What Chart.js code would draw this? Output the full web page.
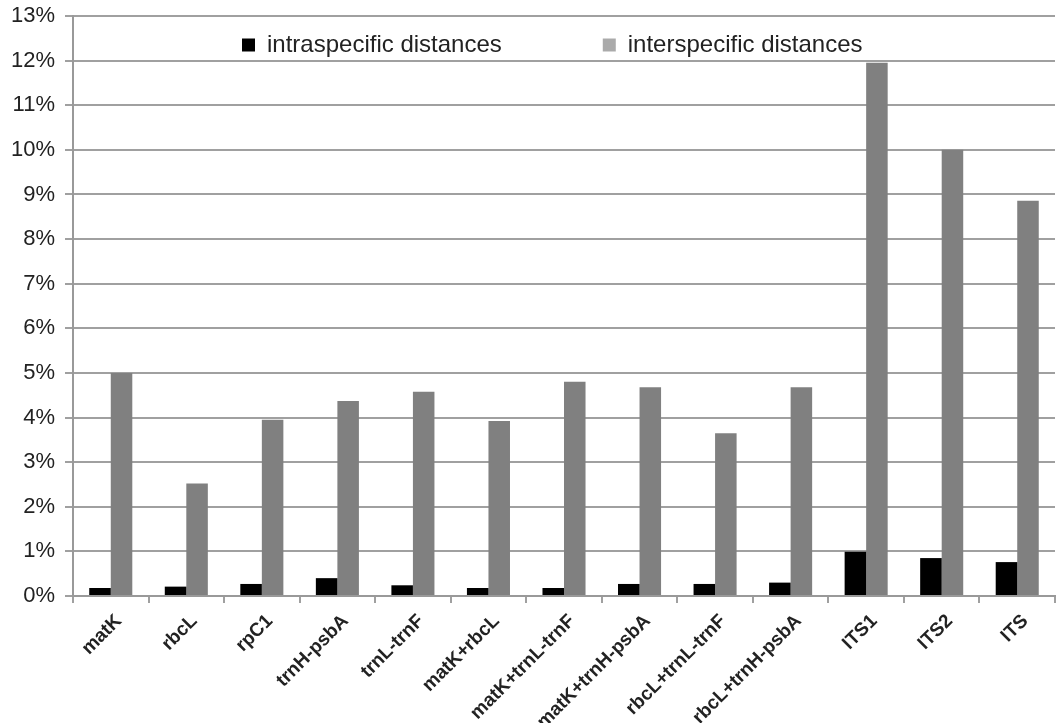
<!DOCTYPE html>
<html>
<head>
<meta charset="utf-8">
<script src="https://cdn.jsdelivr.net/npm/chart.js@4/dist/chart.umd.min.js"></script>
<style>
  html, body { margin: 0; padding: 0; background: #ffffff; }
  #wrap { width: 1064px; height: 723px; position: relative; }
</style>
</head>
<body>
<div id="wrap"><canvas id="c" width="1064" height="723"></canvas></div>
<script>
const categories = ['matK', 'rbcL', 'rpC1', 'trnH-psbA', 'trnL-trnF', 'matK+rbcL', 'matK+trnL-trnF', 'matK+trnH-psbA', 'rbcL+trnL-trnF', 'rbcL+trnH-psbA', 'ITS1', 'ITS2', 'ITS'];
const intraspecific = [0.18, 0.21, 0.27, 0.40, 0.24, 0.18, 0.18, 0.27, 0.27, 0.30, 0.99, 0.85, 0.76];
const interspecific = [5.00, 2.52, 3.95, 4.37, 4.58, 3.92, 4.80, 4.68, 3.65, 4.68, 11.95, 10.00, 8.86];
const seriesNames = ['intraspecific distances', 'interspecific distances'];
const yMin = 0, yMax = 13, yStep = 1;

const FONT = "'Liberation Sans', Arial, Helvetica, sans-serif";
const GRID = '#a0a0a0';

const legendPlacer = {
  id: 'legendPlacer',
  beforeInit(chart) {
    const lg = chart.legend;
    if (lg && !lg._patched) {
      const orig = lg.fit;
      lg.fit = function () { orig.call(this); this.height = 0; };
      lg._patched = true;
    }
  },
  afterLayout(chart) {
    const lg = chart.legend;
    if (!lg) return;
    const pad = lg.options.labels.padding;
    lg.left = 242 - pad;
    lg.right = 1064 + 200;
    lg.top = 33 - pad;
    lg.bottom = 33 + 40;
    lg.width = lg.right - lg.left;
    lg.height = lg.bottom - lg.top;
  }
};

new Chart(document.getElementById('c'), {
  type: 'bar',
  data: {
    labels: categories,
    datasets: [
      { label: seriesNames[0], data: intraspecific, backgroundColor: '#000000', borderWidth: 0 },
      { label: seriesNames[1], data: interspecific, backgroundColor: '#808080', borderWidth: 0 }
    ]
  },
  options: {
    responsive: false,
    animation: false,
    devicePixelRatio: 1,
    layout: { padding: { top: 16, right: 9, left: 0, bottom: 0 } },
    datasets: { bar: { categoryPercentage: 0.57, barPercentage: 1.0 } },
    plugins: {
      tooltip: { enabled: false },
      legend: {
        display: true,
        position: 'top',
        align: 'start',
        labels: {
          boxWidth: 13,
          boxHeight: 13,
          padding: 101,
          color: '#222222',
          font: { family: FONT, size: 24 },
          generateLabels(chart) {
            const items = Chart.defaults.plugins.legend.labels.generateLabels(chart);
            const legendColors = ['#000000', '#aaaaaa'];
            items.forEach((it, i) => { it.fillStyle = legendColors[i]; it.strokeStyle = legendColors[i]; it.lineWidth = 0; });
            return items;
          }
        }
      }
    },
    scales: {
      x: {
        grid: { display: true, drawOnChartArea: false, drawTicks: true, tickLength: 7, color: GRID, lineWidth: 2, offset: true },
        border: { display: true, color: '#999999', width: 2 },
        ticks: {
          autoSkip: false,
          maxRotation: 45,
          minRotation: 45,
          padding: 7,
          labelOffset: 8,
          color: '#222222',
          font: { family: FONT, size: 19, weight: 'bold' }
        },
        afterFit(scale) { scale.height = 127; }
      },
      y: {
        min: yMin,
        max: yMax,
        grid: { display: true, drawTicks: true, tickLength: 8, color: GRID, lineWidth: 2 },
        border: { display: true, color: '#999999', width: 2 },
        ticks: {
          stepSize: yStep,
          padding: 10,
          color: '#222222',
          font: { family: FONT, size: 22 },
          callback: (v) => v + '%'
        },
        afterFit(scale) { scale.width = 73; scale.paddingTop = 0; scale.paddingBottom = 0; }
      }
    }
  },
  plugins: [legendPlacer]
});
</script>
</body>
</html>
